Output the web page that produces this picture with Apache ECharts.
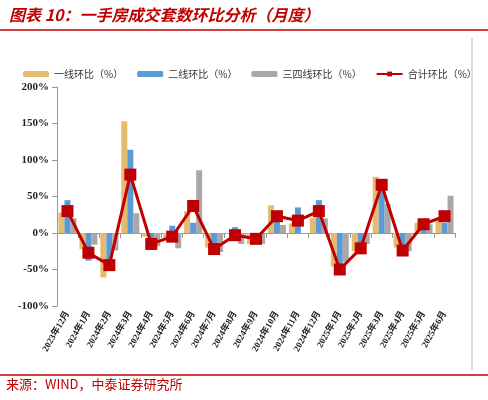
<!DOCTYPE html>
<html><head><meta charset="utf-8">
<script src="https://cdn.jsdelivr.net/npm/echarts@6/dist/echarts.min.js"></script>
<style>body{margin:0;background:#fff}#main{width:488px;height:400px}</style>
</head><body><div id="main"></div>
<script>
var months=['2023年12月','2024年1月','2024年2月','2024年3月','2024年4月','2024年5月','2024年6月','2024年7月','2024年8月','2024年9月','2024年10月','2024年11月','2024年12月','2025年1月','2025年2月','2025年3月','2025年4月','2025年5月','2025年6月'];
var tier1=[28,-22,-61,153,-5,-10,30,-20,-1,-15,38,13,21,-46,-25,77,-20,14,18];
var tier2=[45,-38,-50,114,-20,10,14,-30,8,-10,23,35,45,-55,-25,74,-30,12,14];
var tier34=[20,-16,-24,27,-18,-21,86,-26,-15,-15,11,-1,20,-40,-15,40,-25,12,51];
var total=[30,-27,-44,80,-15,-5,37,-22,-3,-8,23,17,30,-50,-21,66,-24,12,23];
var yTicks=[-100,-50,0,50,100,150,200];
var chart=echarts.init(document.getElementById('main'));
var serif='"Liberation Serif","Noto Sans CJK SC",serif';
chart.setOption({
  animation:false,
  color:['#E6BB6E','#5B9BD5','#ABA7A7','#C00000'],
  title:{text:'图表 10：一手房成交套数环比分析（月度）',left:4,top:2,
    textStyle:{color:'#C00000',fontSize:16,fontWeight:'bold',fontStyle:'italic',fontFamily:'"Noto Sans CJK SC"'}},
  graphic:[
    {type:'line',shape:{x1:0,y1:30,x2:488,y2:30},style:{stroke:'#C00000',lineWidth:1.5}},
    {type:'line',shape:{x1:472,y1:38,x2:472,y2:370},style:{stroke:'#bbb',lineWidth:1}},
    {type:'line',shape:{x1:0,y1:375,x2:488,y2:375},style:{stroke:'#C00000',lineWidth:1.5}},
    {type:'text',left:6,top:378,style:{text:'来源：WIND，中泰证券研究所',fill:'#C00000',fontSize:13,fontFamily:'"Noto Sans CJK SC"'}}
  ],
  legend:{top:64,left:18,itemGap:14,itemWidth:26,itemHeight:6,
    textStyle:{fontSize:10,fontFamily:'"Noto Sans CJK SC"',color:'#333'}},
  grid:{left:57,right:33,top:87,bottom:94},
  xAxis:{type:'category',data:months,
    axisLine:{lineStyle:{color:'#999'}},axisTick:{show:true,lineStyle:{color:'#999'}},
    axisLabel:{rotate:60,interval:0,fontSize:9,fontWeight:'bold',color:'#222',fontFamily:serif,margin:6}},
  yAxis:{type:'value',min:-100,max:200,interval:50,
    axisLine:{show:true,lineStyle:{color:'#999'}},axisTick:{show:true,lineStyle:{color:'#999'}},splitLine:{show:false},
    axisLabel:{formatter:function(v){return yTicks.indexOf(v)>=0?v+'%':'';},fontSize:11,fontWeight:'bold',color:'#222',fontFamily:serif}},
  series:[
    {name:'一线环比（%）',type:'bar',data:tier1,barWidth:6,barGap:'0%'},
    {name:'二线环比（%）',type:'bar',data:tier2,barWidth:6,barGap:'0%'},
    {name:'三四线环比（%）',type:'bar',data:tier34,barWidth:6,barGap:'0%'},
    {name:'合计环比（%）',type:'line',data:total,symbol:'rect',symbolSize:12,lineStyle:{width:3,color:'#C00000'},itemStyle:{color:'#C00000'}}
  ]
});
</script></body></html>
